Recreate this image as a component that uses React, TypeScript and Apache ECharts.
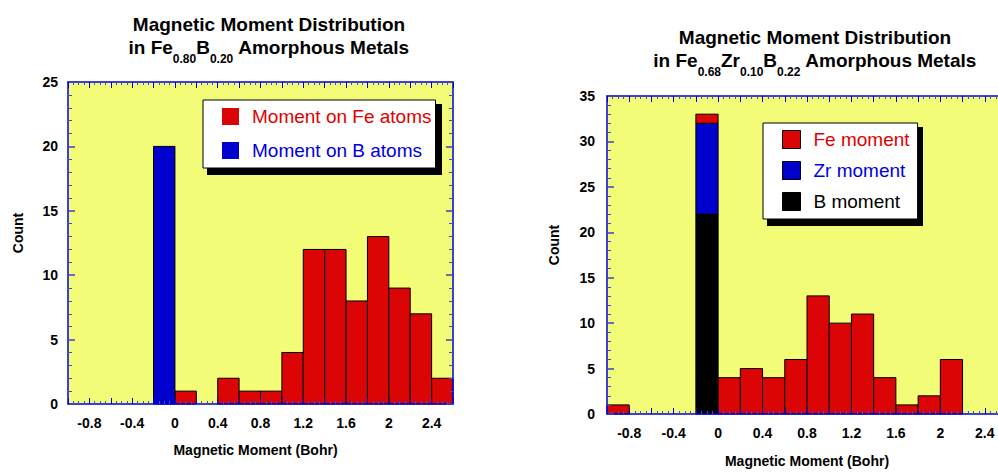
import React, { useEffect, useRef } from 'react';
import * as echarts from 'echarts';

// ---------- data ----------
const BIN_WIDTH = 0.2;
const BIN_STARTS = [-1.0, -0.8, -0.6, -0.4, -0.2, 0, 0.2, 0.4, 0.6, 0.8, 1.0, 1.2, 1.4, 1.6, 1.8, 2.0, 2.2, 2.4];

// Fe0.80B0.20
const FEB_FE_COUNTS = [0, 0, 0, 0, 0, 1, 0, 2, 1, 1, 4, 12, 12, 8, 13, 9, 7, 2];
const FEB_B_COUNTS = [0, 0, 0, 0, 20, 0, 0, 0, 0, 0, 0, 0, 0, 0, 0, 0, 0, 0];

// Fe0.68Zr0.10B0.22 (stacked: B bottom, Zr, Fe top)
const FEZRB_B_COUNTS = [0, 0, 0, 0, 22, 0, 0, 0, 0, 0, 0, 0, 0, 0, 0, 0, 0, 0];
const FEZRB_ZR_COUNTS = [0, 0, 0, 0, 10, 0, 0, 0, 0, 0, 0, 0, 0, 0, 0, 0, 0, 0];
const FEZRB_FE_COUNTS = [1, 0, 0, 0, 1, 4, 5, 4, 6, 13, 10, 11, 4, 1, 2, 6, 0, 0];

const X_MIN = -1.0;
const X_MAX = 2.6;
const X_TICK_STEP = 0.2;
const X_LABEL_STEP = 0.4;
const Y_MAX_LEFT = 25;
const Y_MAX_RIGHT = 35;
const Y_TICK_STEP = 5;

const LEFT_SERIES = ['Moment on Fe atoms', 'Moment on B atoms'];
const RIGHT_SERIES = ['Fe moment', 'Zr moment', 'B moment'];

// ---------- styles ----------
const FONT = "'Liberation Sans', Arial, Helvetica, sans-serif";
const RED = '#dc0505';
const BLUE = '#0000cc';
const BLACK = '#000000';
const YELLOW = '#f2fc76';
const AXIS_BLUE = '#0000e0';
const MINOR_BLUE = '#4a4ac0';

function buildBars(counts: number[], bases?: number[]) {
  const out: number[][] = [];
  counts.forEach((c, i) => {
    if (c > 0) {
      const b = bases ? bases[i] : 0;
      out.push([BIN_STARTS[i], BIN_STARTS[i] + BIN_WIDTH, b, b + c]);
    }
  });
  return out;
}

const renderRect = (params: any, api: any) => {
  const p0 = api.coord([api.value(0), api.value(3)]);
  const p1 = api.coord([api.value(1), api.value(2)]);
  return {
    type: 'rect',
    shape: { x: p0[0], y: p0[1], width: p1[0] - p0[0], height: p1[1] - p0[1] },
    style: { fill: api.visual('color'), stroke: '#000', lineWidth: 1 },
  };
};

function xFormatter(v: number) {
  const k = Math.round(v * 10);
  if (k % Math.round(X_LABEL_STEP * 10) !== 0) return '';
  return String(k / 10);
}

function xAxisDef(gridIndex: number, top: boolean, nameShift: number) {
  return {
    type: 'value',
    gridIndex,
    position: top ? 'top' : 'bottom',
    min: X_MIN,
    max: X_MAX,
    interval: X_TICK_STEP,
    z: 10,
    name: top ? '' : 'Magnetic Moment (Bohr)',
    nameLocation: 'middle',
    nameGap: gridIndex === 0 ? 39 : 40,
    nameTextStyle: { fontSize: 14, fontWeight: 'bold', color: '#000', fontFamily: FONT, padding: [0, nameShift, 0, 0] },
    axisLine: { show: true, onZero: false, lineStyle: { color: AXIS_BLUE, width: 1.5 } },
    axisTick: { show: true, inside: true, length: 6, lineStyle: { color: AXIS_BLUE, width: 1 } },
    minorTick: { show: true, splitNumber: 4, length: 3, lineStyle: { color: MINOR_BLUE, width: 1 } },
    splitLine: { show: false },
    minorSplitLine: { show: false },
    axisLabel: {
      show: !top,
      margin: 12,
      fontSize: 14,
      fontWeight: 'bold',
      color: '#000',
      fontFamily: FONT,
      formatter: xFormatter,
    },
  };
}

function yAxisDef(gridIndex: number, right: boolean, max: number) {
  return {
    type: 'value',
    gridIndex,
    position: right ? 'right' : 'left',
    min: 0,
    max,
    interval: Y_TICK_STEP,
    z: 10,
    name: right ? '' : '{n|Count}',
    nameLocation: 'middle',
    nameRotate: 90,
    nameGap: gridIndex === 0 ? 43 : 46,
    nameTextStyle: {
      fontSize: 14, fontWeight: 'bold', color: '#000', fontFamily: FONT,
      rich: { n: { fontSize: 14, fontWeight: 'bold', color: '#000', fontFamily: FONT, padding: [0, 0, 0, 20] } },
    },
    axisLine: { show: true, onZero: false, lineStyle: { color: AXIS_BLUE, width: 1.5 } },
    axisTick: { show: true, inside: true, length: 7, lineStyle: { color: '#4040c8', width: 1.5 } },
    minorTick: { show: true, splitNumber: 5, length: 4, lineStyle: { color: MINOR_BLUE, width: 1 } },
    splitLine: { show: false },
    minorSplitLine: { show: false },
    axisLabel: {
      show: !right,
      margin: gridIndex === 0 ? 10 : 12,
      fontSize: 14,
      fontWeight: 'bold',
      color: '#000',
      fontFamily: FONT,
    },
  };
}

const titleRich = {
  t: { fontSize: 19, fontWeight: 'bold', color: '#000', lineHeight: 23, verticalAlign: 'top', fontFamily: FONT },
  s: { fontSize: 12, fontWeight: 'bold', color: '#000', padding: [15, 0, 0, 0], verticalAlign: 'top', fontFamily: FONT },
};

function legendDef(left: number, top: number, names: string[], colors: string[], textColors: string[], size: number, gap: number, pad: number[], bordered: boolean) {
  return {
    orient: 'vertical',
    left,
    top,
    z: 6,
    padding: pad,
    itemGap: gap,
    itemWidth: size,
    itemHeight: size,
    backgroundColor: '#ffffff',
    borderColor: '#000',
    borderWidth: 1,
    selectedMode: false,
    textStyle: { fontSize: 19, fontFamily: FONT, padding: [0, 0, 0, 8] },
    data: names.map((n, i) => ({
      name: n,
      icon: 'rect',
      itemStyle: { color: colors[i], borderColor: '#000', borderWidth: bordered ? 1 : 0 },
      textStyle: { color: textColors[i] },
    })),
  };
}

export default function App() {
  const ref = useRef<HTMLDivElement>(null);
  useEffect(() => {
    document.body.style.margin = '0';
    if (!ref.current) return;
    const chart = echarts.init(ref.current, undefined, { renderer: 'svg' });

    const zrBases = FEZRB_B_COUNTS;
    const feBases = FEZRB_B_COUNTS.map((b, i) => b + FEZRB_ZR_COUNTS[i]);

    const option: any = {
      animation: false,
      backgroundColor: '#ffffff',
      textStyle: { fontFamily: FONT },
      title: [
        {
          left: 264,
          top: 9.5,
          textAlign: 'center',
          text: '{t|Magnetic Moment Distribution}\n{t|in Fe}{s|0.80}{t|B}{s|0.20}{t| Amorphous Metals}',
          textStyle: { rich: titleRich },
        },
        {
          left: 810,
          top: 23,
          textAlign: 'center',
          text: '{t|Magnetic Moment Distribution}\n{t|in Fe}{s|0.68}{t|Zr}{s|0.10}{t|B}{s|0.22}{t| Amorphous Metals}',
          textStyle: { rich: titleRich },
        },
      ],
      legend: [
        legendDef(203, 100, LEFT_SERIES, [RED, BLUE], ['#e00000', '#0000dd'], 17, 15, [7, 4, 8, 19], false),
        legendDef(763, 123, RIGHT_SERIES, [RED, BLUE, BLACK], ['#e00000', '#0000dd', '#000000'], 18, 12, [7, 8, 8, 19], true),
      ],
      graphic: [
        { type: 'rect', z: 5, shape: { x: 207, y: 104, width: 235, height: 71 }, style: { fill: '#000' } },
        { type: 'rect', z: 5, shape: { x: 767, y: 127, width: 156, height: 99 }, style: { fill: '#000' } },
      ],
      grid: [
        { left: 68, top: 82, width: 385, height: 322, show: true, backgroundColor: YELLOW, borderWidth: 0, outerBoundsMode: 'none', containLabel: false },
        { left: 607, top: 96, width: 400, height: 318, show: true, backgroundColor: YELLOW, borderWidth: 0, outerBoundsMode: 'none', containLabel: false },
      ],
      xAxis: [xAxisDef(0, false, 10), xAxisDef(0, true, 0), xAxisDef(1, false, 0), xAxisDef(1, true, 0)],
      yAxis: [yAxisDef(0, false, Y_MAX_LEFT), yAxisDef(0, true, Y_MAX_LEFT), yAxisDef(1, false, Y_MAX_RIGHT), yAxisDef(1, true, Y_MAX_RIGHT)],
      series: [
        {
          name: LEFT_SERIES[0], type: 'custom', xAxisIndex: 0, yAxisIndex: 0,
          itemStyle: { color: RED }, renderItem: renderRect, encode: { x: [0, 1], y: [2, 3] },
          data: buildBars(FEB_FE_COUNTS),
        },
        {
          name: LEFT_SERIES[1], type: 'custom', xAxisIndex: 0, yAxisIndex: 0,
          itemStyle: { color: BLUE }, renderItem: renderRect, encode: { x: [0, 1], y: [2, 3] },
          data: buildBars(FEB_B_COUNTS),
        },
        {
          name: RIGHT_SERIES[2], type: 'custom', xAxisIndex: 2, yAxisIndex: 2,
          itemStyle: { color: BLACK }, renderItem: renderRect, encode: { x: [0, 1], y: [2, 3] },
          data: buildBars(FEZRB_B_COUNTS),
        },
        {
          name: RIGHT_SERIES[1], type: 'custom', xAxisIndex: 2, yAxisIndex: 2,
          itemStyle: { color: BLUE }, renderItem: renderRect, encode: { x: [0, 1], y: [2, 3] },
          data: buildBars(FEZRB_ZR_COUNTS, zrBases),
        },
        {
          name: RIGHT_SERIES[0], type: 'custom', xAxisIndex: 2, yAxisIndex: 2,
          itemStyle: { color: RED }, renderItem: renderRect, encode: { x: [0, 1], y: [2, 3] },
          data: buildBars(FEZRB_FE_COUNTS, feBases),
        },
      ],
    };
    chart.setOption(option);
    return () => chart.dispose();
  }, []);
  return <div ref={ref} style={{ width: 998, height: 472 }} />;
}
